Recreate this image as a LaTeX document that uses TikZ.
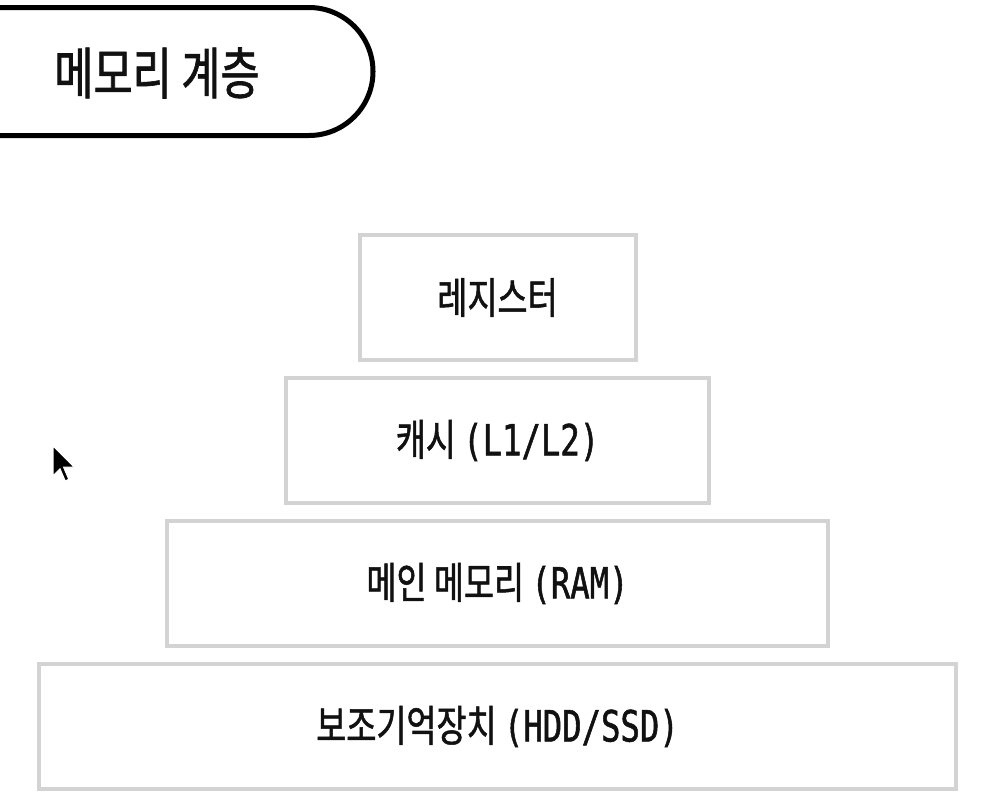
\documentclass[tikz,border=0pt]{standalone}
\usepackage{fontspec}
\newfontfamily\krfont[FakeStretch=0.76, FakeBold=1.2]{Noto Sans CJK KR}
\newfontfamily\latfont[Scale=1.0, FakeStretch=0.75, FakeBold=1.2]{DejaVu Sans Mono}
\newcommand\mhlat[1]{{\latfont #1}}
\usetikzlibrary{positioning}
\definecolor{mhline}{HTML}{D3D3D3}
\definecolor{mhink}{HTML}{111111}
\tikzset{
  level/.style={draw=mhline, line width=4pt, fill=white, inner sep=0pt,
    minimum height=125pt, font=\krfont\fontsize{43}{48}\selectfont, text=mhink},
  pill/.style={draw=black, line width=5pt},
}

\begin{document}
\begin{tikzpicture}[x=1pt, y=-1pt]
        \fill[white] (0,0) rectangle (1003,803);
        \clip (0,0) rectangle (1003,803);
        % title
        \draw[pill] (-20,7.5) -- (309,7.5)
          arc[start angle=-90, end angle=90, radius=64] -- (-20,135.5);
        \node[font=\krfont\fontsize{56}{62}\selectfont, text=mhink] (title) at (157,73) {메모리 계층};
        % hierarchy
        \node[level, minimum width=276pt] (reg) at (497.5,297.5) {레지스터};
        \node[level, minimum width=423pt, below=14pt of reg] (cache) {캐시 \mhlat{(L1/L2)}};
        \node[level, minimum width=661pt, below=14pt of cache] (ram) {메인 메모리 \mhlat{(RAM)}};
        \node[level, minimum width=917pt, below=14pt of ram] (disk) {보조기억장치 \mhlat{(HDD/SSD)}};
        % mouse pointer
        \fill[black, draw=white, line width=1pt, shift={(53,446)}, scale=1.75]
          (0,0) -- (0,17) -- (4,13) -- (7,20) -- (9,19) -- (6,12) -- (12,12) -- cycle;
      \end{tikzpicture}
\end{document}
